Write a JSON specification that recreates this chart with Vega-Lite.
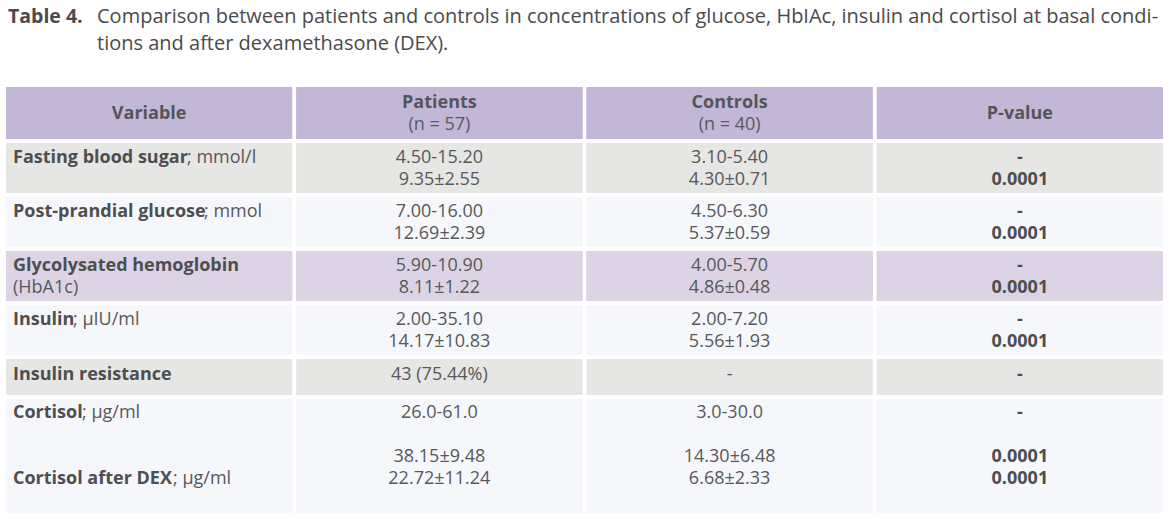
{
  "$schema": "https://vega.github.io/schema/vega-lite/v6.json",
  "padding": {"left": 6, "top": 0, "right": 0, "bottom": 0},
  "background": "white",
  "config": {"view": {"stroke": null}, "concat": {"spacing": 4}},
  "datasets": {
    "title": [
      {"part": "label", "line": 1, "text": "Table 4."},
      {"part": "body", "line": 1, "text": "Comparison between patients and controls in concentrations of glucose, HbIAc, insulin and cortisol at basal condi-"},
      {"part": "body", "line": 2, "text": "tions and after dexamethasone (DEX)."}
    ],
    "cells": [
      {"row": 0, "col": "Variable", "line": 1.5, "kind": "bc", "text": "Variable"},
      {"row": 0, "col": "Patients", "line": 1, "kind": "bc", "text": "Patients"},
      {"row": 0, "col": "Patients", "line": 2, "kind": "c", "text": "(n = 57)"},
      {"row": 0, "col": "Controls", "line": 1, "kind": "bc", "text": "Controls"},
      {"row": 0, "col": "Controls", "line": 2, "kind": "c", "text": "(n = 40)"},
      {"row": 0, "col": "P-value", "line": 1.5, "kind": "bc", "text": "P-value"},

      {"row": 1, "col": "Variable", "line": 1, "kind": "lb", "text": "Fasting blood sugar", "unit": "; mmol/l"},
      {"row": 1, "col": "Patients", "line": 1, "kind": "c", "text": "4.50-15.20"},
      {"row": 1, "col": "Patients", "line": 2, "kind": "c", "text": "9.35±2.55"},
      {"row": 1, "col": "Controls", "line": 1, "kind": "c", "text": "3.10-5.40"},
      {"row": 1, "col": "Controls", "line": 2, "kind": "c", "text": "4.30±0.71"},
      {"row": 1, "col": "P-value", "line": 1, "kind": "bc", "text": "-"},
      {"row": 1, "col": "P-value", "line": 2, "kind": "bc", "text": "0.0001"},

      {"row": 2, "col": "Variable", "line": 1, "kind": "lb", "text": "Post-prandial glucose", "unit": "; mmol"},
      {"row": 2, "col": "Patients", "line": 1, "kind": "c", "text": "7.00-16.00"},
      {"row": 2, "col": "Patients", "line": 2, "kind": "c", "text": "12.69±2.39"},
      {"row": 2, "col": "Controls", "line": 1, "kind": "c", "text": "4.50-6.30"},
      {"row": 2, "col": "Controls", "line": 2, "kind": "c", "text": "5.37±0.59"},
      {"row": 2, "col": "P-value", "line": 1, "kind": "bc", "text": "-"},
      {"row": 2, "col": "P-value", "line": 2, "kind": "bc", "text": "0.0001"},

      {"row": 3, "col": "Variable", "line": 1, "kind": "lb", "text": "Glycolysated hemoglobin"},
      {"row": 3, "col": "Variable", "line": 2, "kind": "l", "text": "(HbA1c)"},
      {"row": 3, "col": "Patients", "line": 1, "kind": "c", "text": "5.90-10.90"},
      {"row": 3, "col": "Patients", "line": 2, "kind": "c", "text": "8.11±1.22"},
      {"row": 3, "col": "Controls", "line": 1, "kind": "c", "text": "4.00-5.70"},
      {"row": 3, "col": "Controls", "line": 2, "kind": "c", "text": "4.86±0.48"},
      {"row": 3, "col": "P-value", "line": 1, "kind": "bc", "text": "-"},
      {"row": 3, "col": "P-value", "line": 2, "kind": "bc", "text": "0.0001"},

      {"row": 4, "col": "Variable", "line": 1, "kind": "lb", "text": "Insulin", "unit": "; µIU/ml"},
      {"row": 4, "col": "Patients", "line": 1, "kind": "c", "text": "2.00-35.10"},
      {"row": 4, "col": "Patients", "line": 2, "kind": "c", "text": "14.17±10.83"},
      {"row": 4, "col": "Controls", "line": 1, "kind": "c", "text": "2.00-7.20"},
      {"row": 4, "col": "Controls", "line": 2, "kind": "c", "text": "5.56±1.93"},
      {"row": 4, "col": "P-value", "line": 1, "kind": "bc", "text": "-"},
      {"row": 4, "col": "P-value", "line": 2, "kind": "bc", "text": "0.0001"},

      {"row": 5, "col": "Variable", "line": 1, "kind": "lb", "text": "Insulin resistance"},
      {"row": 5, "col": "Patients", "line": 1, "kind": "c", "text": "43 (75.44%)"},
      {"row": 5, "col": "Controls", "line": 1, "kind": "c", "text": "-"},
      {"row": 5, "col": "P-value", "line": 1, "kind": "bc", "text": "-"},

      {"row": 6, "col": "Variable", "line": 1, "kind": "lb", "text": "Cortisol", "unit": "; µg/ml"},
      {"row": 6, "col": "Variable", "line": 4, "kind": "lb", "text": "Cortisol after DEX", "unit": "; µg/ml"},
      {"row": 6, "col": "Patients", "line": 1, "kind": "c", "text": "26.0-61.0"},
      {"row": 6, "col": "Patients", "line": 3, "kind": "c", "text": "38.15±9.48"},
      {"row": 6, "col": "Patients", "line": 4, "kind": "c", "text": "22.72±11.24"},
      {"row": 6, "col": "Controls", "line": 1, "kind": "c", "text": "3.0-30.0"},
      {"row": 6, "col": "Controls", "line": 3, "kind": "c", "text": "14.30±6.48"},
      {"row": 6, "col": "Controls", "line": 4, "kind": "c", "text": "6.68±2.33"},
      {"row": 6, "col": "P-value", "line": 1, "kind": "bc", "text": "-"},
      {"row": 6, "col": "P-value", "line": 3, "kind": "bc", "text": "0.0001"},
      {"row": 6, "col": "P-value", "line": 4, "kind": "bc", "text": "0.0001"}
    ]
  },
  "vconcat": [
    {
      "width": 1157, "height": 83,
      "data": {"name": "title"},
      "encoding": {
        "x": {"field": "part", "type": "nominal", "scale": {"type": "point", "domain": ["label", "body"], "range": [2, 91], "padding": 0}, "axis": null},
        "y": {"field": "line", "type": "quantitative", "scale": {"domain": [1, 2], "range": [17, 44], "nice": false, "zero": false}, "axis": null},
        "text": {"field": "text"}
      },
      "layer": [
        {"transform": [{"filter": "datum.part == 'label'"}], "mark": {"type": "text", "align": "left", "baseline": "middle", "font": "Open Sans", "fontSize": 19.5, "fontWeight": "bold", "color": "#4a4a4c"}},
        {"transform": [{"filter": "datum.part == 'body'"}], "mark": {"type": "text", "align": "left", "baseline": "middle", "font": "Open Sans", "fontSize": 20, "color": "#4a4a4c"}}
      ]
    },
    {
      "width": 1157, "height": 52,
      "data": {"name": "cells"},
      "transform": [{"filter": "datum.row == 0"}],
      "encoding": {
        "x": {"field": "col", "type": "nominal", "scale": {"domain": ["Variable", "Patients", "Controls", "P-value"], "paddingInner": 0.01378, "paddingOuter": 0}, "axis": null},
        "y": {"field": "line", "type": "quantitative", "scale": {"domain": [1, 2], "range": [16, 38], "nice": false, "zero": false}, "axis": null}
      },
      "layer": [
        {"mark": {"type": "rect", "color": "#c3b7d8"}, "encoding": {"y": {"value": 0}, "y2": {"value": "height"}}},
        {"transform": [{"filter": "datum.kind == 'bc'"}], "mark": {"type": "text", "baseline": "middle", "font": "Open Sans", "fontSize": 18, "fontWeight": "bold", "color": "#555557"}, "encoding": {"text": {"field": "text"}}},
        {"transform": [{"filter": "datum.kind == 'c'"}], "mark": {"type": "text", "baseline": "middle", "font": "Open Sans", "fontSize": 18, "color": "#5a5a5c"}, "encoding": {"text": {"field": "text"}}}
      ]
    },
    {
      "width": 1157, "height": 50,
      "data": {"name": "cells"},
      "transform": [{"filter": "datum.row == 1"}],
      "encoding": {
        "x": {"field": "col", "type": "nominal", "scale": {"domain": ["Variable", "Patients", "Controls", "P-value"], "paddingInner": 0.01378, "paddingOuter": 0}, "axis": null},
        "y": {"field": "line", "type": "quantitative", "scale": {"domain": [1, 2], "range": [14.5, 36.5], "nice": false, "zero": false}, "axis": null}
      },
      "layer": [
        {"mark": {"type": "rect", "color": "#e6e6e4"}, "encoding": {"y": {"value": 0}, "y2": {"value": "height"}}},
        {"transform": [{"filter": "datum.kind == 'bc'"}], "mark": {"type": "text", "baseline": "middle", "font": "Open Sans", "fontSize": 18, "fontWeight": "bold", "color": "#4e4e50"}, "encoding": {"text": {"field": "text"}}},
        {"transform": [{"filter": "datum.kind == 'c'"}], "mark": {"type": "text", "baseline": "middle", "font": "Open Sans", "fontSize": 18, "color": "#58585a"}, "encoding": {"text": {"field": "text"}}},
        {"transform": [{"filter": "datum.kind == 'lb'"}], "mark": {"type": "text", "align": "left", "dx": 7, "baseline": "middle", "font": "Open Sans", "fontSize": 18, "fontWeight": "bold", "color": "#4e4e50"}, "encoding": {"x": {"field": "col", "type": "nominal", "bandPosition": 0, "axis": null}, "text": {"field": "text"}}},
        {"transform": [{"filter": "isValid(datum.unit)"}], "mark": {"type": "text", "align": "left", "dx": 181, "baseline": "middle", "font": "Open Sans", "fontSize": 18, "color": "#58585a"}, "encoding": {"x": {"field": "col", "type": "nominal", "bandPosition": 0, "axis": null}, "text": {"field": "unit"}}}
      ]
    },
    {
      "width": 1157, "height": 50,
      "data": {"name": "cells"},
      "transform": [{"filter": "datum.row == 2"}],
      "encoding": {
        "x": {"field": "col", "type": "nominal", "scale": {"domain": ["Variable", "Patients", "Controls", "P-value"], "paddingInner": 0.01378, "paddingOuter": 0}, "axis": null},
        "y": {"field": "line", "type": "quantitative", "scale": {"domain": [1, 2], "range": [14.5, 36.5], "nice": false, "zero": false}, "axis": null}
      },
      "layer": [
        {"mark": {"type": "rect", "color": "#f5f7fa"}, "encoding": {"y": {"value": 0}, "y2": {"value": "height"}}},
        {"transform": [{"filter": "datum.kind == 'bc'"}], "mark": {"type": "text", "baseline": "middle", "font": "Open Sans", "fontSize": 18, "fontWeight": "bold", "color": "#4e4e50"}, "encoding": {"text": {"field": "text"}}},
        {"transform": [{"filter": "datum.kind == 'c'"}], "mark": {"type": "text", "baseline": "middle", "font": "Open Sans", "fontSize": 18, "color": "#58585a"}, "encoding": {"text": {"field": "text"}}},
        {"transform": [{"filter": "datum.kind == 'lb'"}], "mark": {"type": "text", "align": "left", "dx": 7, "baseline": "middle", "font": "Open Sans", "fontSize": 18, "fontWeight": "bold", "color": "#4e4e50"}, "encoding": {"x": {"field": "col", "type": "nominal", "bandPosition": 0, "axis": null}, "text": {"field": "text"}}},
        {"transform": [{"filter": "isValid(datum.unit)"}], "mark": {"type": "text", "align": "left", "dx": 198, "baseline": "middle", "font": "Open Sans", "fontSize": 18, "color": "#58585a"}, "encoding": {"x": {"field": "col", "type": "nominal", "bandPosition": 0, "axis": null}, "text": {"field": "unit"}}}
      ]
    },
    {
      "width": 1157, "height": 50,
      "data": {"name": "cells"},
      "transform": [{"filter": "datum.row == 3"}],
      "encoding": {
        "x": {"field": "col", "type": "nominal", "scale": {"domain": ["Variable", "Patients", "Controls", "P-value"], "paddingInner": 0.01378, "paddingOuter": 0}, "axis": null},
        "y": {"field": "line", "type": "quantitative", "scale": {"domain": [1, 2], "range": [14.5, 36.5], "nice": false, "zero": false}, "axis": null}
      },
      "layer": [
        {"mark": {"type": "rect", "color": "#dcd4e5"}, "encoding": {"y": {"value": 0}, "y2": {"value": "height"}}},
        {"transform": [{"filter": "datum.kind == 'bc'"}], "mark": {"type": "text", "baseline": "middle", "font": "Open Sans", "fontSize": 18, "fontWeight": "bold", "color": "#4e4e50"}, "encoding": {"text": {"field": "text"}}},
        {"transform": [{"filter": "datum.kind == 'c'"}], "mark": {"type": "text", "baseline": "middle", "font": "Open Sans", "fontSize": 18, "color": "#58585a"}, "encoding": {"text": {"field": "text"}}},
        {"transform": [{"filter": "datum.kind == 'lb'"}], "mark": {"type": "text", "align": "left", "dx": 7, "baseline": "middle", "font": "Open Sans", "fontSize": 18, "fontWeight": "bold", "color": "#4e4e50"}, "encoding": {"x": {"field": "col", "type": "nominal", "bandPosition": 0, "axis": null}, "text": {"field": "text"}}},
        {"transform": [{"filter": "datum.kind == 'l'"}], "mark": {"type": "text", "align": "left", "dx": 7, "baseline": "middle", "font": "Open Sans", "fontSize": 18, "color": "#58585a"}, "encoding": {"x": {"field": "col", "type": "nominal", "bandPosition": 0, "axis": null}, "text": {"field": "text"}}}
      ]
    },
    {
      "width": 1157, "height": 50,
      "data": {"name": "cells"},
      "transform": [{"filter": "datum.row == 4"}],
      "encoding": {
        "x": {"field": "col", "type": "nominal", "scale": {"domain": ["Variable", "Patients", "Controls", "P-value"], "paddingInner": 0.01378, "paddingOuter": 0}, "axis": null},
        "y": {"field": "line", "type": "quantitative", "scale": {"domain": [1, 2], "range": [14.5, 36.5], "nice": false, "zero": false}, "axis": null}
      },
      "layer": [
        {"mark": {"type": "rect", "color": "#f5f7fa"}, "encoding": {"y": {"value": 0}, "y2": {"value": "height"}}},
        {"transform": [{"filter": "datum.kind == 'bc'"}], "mark": {"type": "text", "baseline": "middle", "font": "Open Sans", "fontSize": 18, "fontWeight": "bold", "color": "#4e4e50"}, "encoding": {"text": {"field": "text"}}},
        {"transform": [{"filter": "datum.kind == 'c'"}], "mark": {"type": "text", "baseline": "middle", "font": "Open Sans", "fontSize": 18, "color": "#58585a"}, "encoding": {"text": {"field": "text"}}},
        {"transform": [{"filter": "datum.kind == 'lb'"}], "mark": {"type": "text", "align": "left", "dx": 7, "baseline": "middle", "font": "Open Sans", "fontSize": 18, "fontWeight": "bold", "color": "#4e4e50"}, "encoding": {"x": {"field": "col", "type": "nominal", "bandPosition": 0, "axis": null}, "text": {"field": "text"}}},
        {"transform": [{"filter": "isValid(datum.unit)"}], "mark": {"type": "text", "align": "left", "dx": 67, "baseline": "middle", "font": "Open Sans", "fontSize": 18, "color": "#58585a"}, "encoding": {"x": {"field": "col", "type": "nominal", "bandPosition": 0, "axis": null}, "text": {"field": "unit"}}}
      ]
    },
    {
      "width": 1157, "height": 36,
      "data": {"name": "cells"},
      "transform": [{"filter": "datum.row == 5"}],
      "encoding": {
        "x": {"field": "col", "type": "nominal", "scale": {"domain": ["Variable", "Patients", "Controls", "P-value"], "paddingInner": 0.01378, "paddingOuter": 0}, "axis": null},
        "y": {"field": "line", "type": "quantitative", "scale": {"domain": [1, 2], "range": [16, 38], "nice": false, "zero": false}, "axis": null}
      },
      "layer": [
        {"mark": {"type": "rect", "color": "#e6e6e4"}, "encoding": {"y": {"value": 0}, "y2": {"value": "height"}}},
        {"transform": [{"filter": "datum.kind == 'bc'"}], "mark": {"type": "text", "baseline": "middle", "font": "Open Sans", "fontSize": 18, "fontWeight": "bold", "color": "#4e4e50"}, "encoding": {"text": {"field": "text"}}},
        {"transform": [{"filter": "datum.kind == 'c'"}], "mark": {"type": "text", "baseline": "middle", "font": "Open Sans", "fontSize": 18, "color": "#58585a"}, "encoding": {"text": {"field": "text"}}},
        {"transform": [{"filter": "datum.kind == 'lb'"}], "mark": {"type": "text", "align": "left", "dx": 7, "baseline": "middle", "font": "Open Sans", "fontSize": 18, "fontWeight": "bold", "color": "#4e4e50"}, "encoding": {"x": {"field": "col", "type": "nominal", "bandPosition": 0, "axis": null}, "text": {"field": "text"}}}
      ]
    },
    {
      "width": 1157, "height": 114,
      "data": {"name": "cells"},
      "transform": [{"filter": "datum.row == 6"}],
      "encoding": {
        "x": {"field": "col", "type": "nominal", "scale": {"domain": ["Variable", "Patients", "Controls", "P-value"], "paddingInner": 0.01378, "paddingOuter": 0}, "axis": null},
        "y": {"field": "line", "type": "quantitative", "scale": {"domain": [1, 4], "range": [14, 80], "nice": false, "zero": false}, "axis": null}
      },
      "layer": [
        {"mark": {"type": "rect", "color": "#f5f7fa"}, "encoding": {"y": {"value": 0}, "y2": {"value": "height"}}},
        {"transform": [{"filter": "datum.kind == 'bc'"}], "mark": {"type": "text", "baseline": "middle", "font": "Open Sans", "fontSize": 18, "fontWeight": "bold", "color": "#4e4e50"}, "encoding": {"text": {"field": "text"}}},
        {"transform": [{"filter": "datum.kind == 'c'"}], "mark": {"type": "text", "baseline": "middle", "font": "Open Sans", "fontSize": 18, "color": "#58585a"}, "encoding": {"text": {"field": "text"}}},
        {"transform": [{"filter": "datum.kind == 'lb'"}], "mark": {"type": "text", "align": "left", "dx": 7, "baseline": "middle", "font": "Open Sans", "fontSize": 18, "fontWeight": "bold", "color": "#4e4e50"}, "encoding": {"x": {"field": "col", "type": "nominal", "bandPosition": 0, "axis": null}, "text": {"field": "text"}}},
        {"transform": [{"filter": "isValid(datum.unit) && datum.line == 1"}], "mark": {"type": "text", "align": "left", "dx": 76, "baseline": "middle", "font": "Open Sans", "fontSize": 18, "color": "#58585a"}, "encoding": {"x": {"field": "col", "type": "nominal", "bandPosition": 0, "axis": null}, "text": {"field": "unit"}}},
        {"transform": [{"filter": "isValid(datum.unit) && datum.line == 4"}], "mark": {"type": "text", "align": "left", "dx": 167, "baseline": "middle", "font": "Open Sans", "fontSize": 18, "color": "#58585a"}, "encoding": {"x": {"field": "col", "type": "nominal", "bandPosition": 0, "axis": null}, "text": {"field": "unit"}}}
      ]
    }
  ]
}
